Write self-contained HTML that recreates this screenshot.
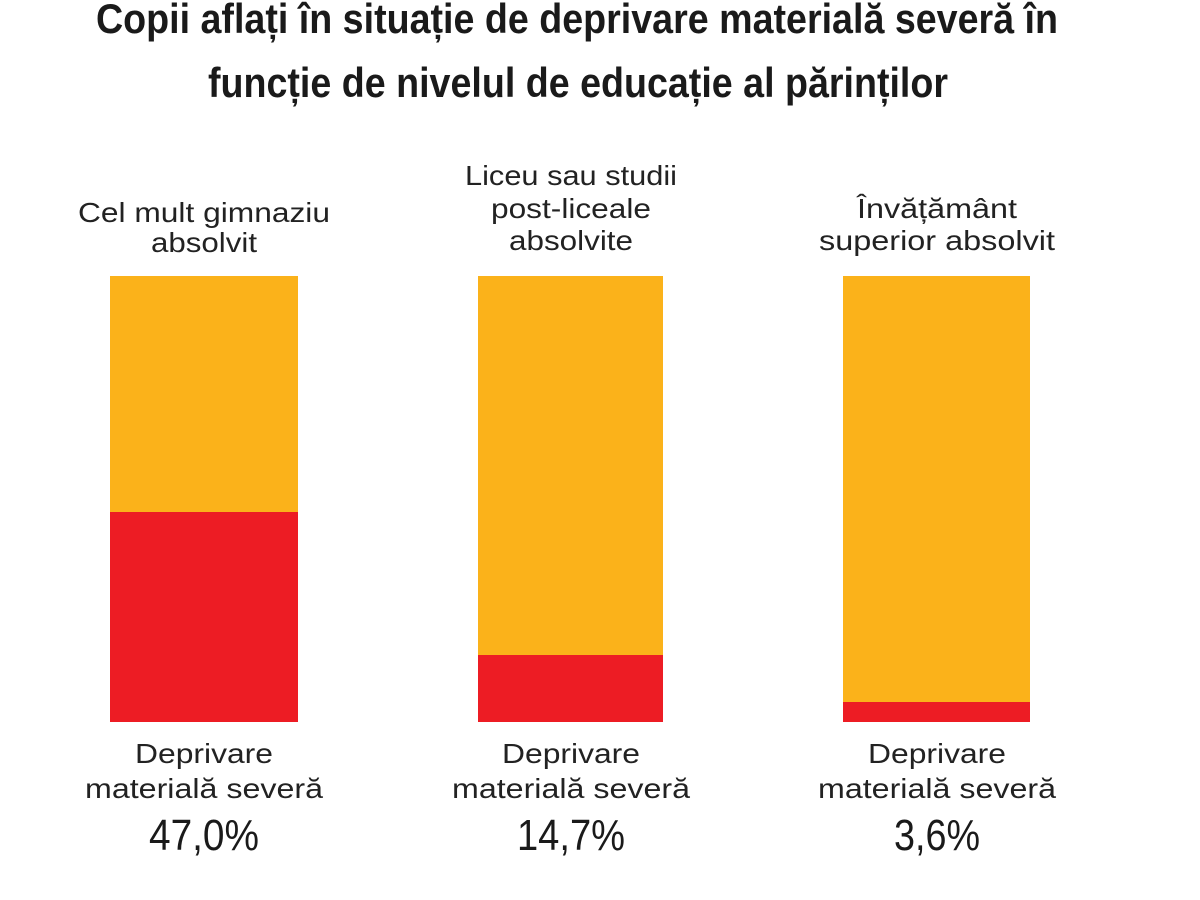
<!DOCTYPE html>
<html><head><meta charset="utf-8"><style>
html,body{margin:0;padding:0;background:#fff;}
svg{display:block}
.t{font-family:"Liberation Sans Narrow","Liberation Sans",sans-serif;font-weight:bold;font-size:42px;fill:#1a1a1a}
.l{font-family:"Liberation Sans",sans-serif;font-size:28px;fill:#222;text-anchor:middle}
.p{font-family:"Liberation Sans Narrow","Liberation Sans",sans-serif;font-size:44px;fill:#1a1a1a;text-anchor:middle}
</style></head><body>
<svg width="1200" height="900" viewBox="0 0 1200 900">
<text class="t" x="96" y="33" textLength="962" lengthAdjust="spacingAndGlyphs">Copii aflați în situație de deprivare materială severă în</text>
<text class="t" x="208" y="97" textLength="740" lengthAdjust="spacingAndGlyphs">funcție de nivelul de educație al părinților</text>

<text class="l" x="204" y="222" textLength="252" lengthAdjust="spacingAndGlyphs">Cel mult gimnaziu</text>
<text class="l" x="204" y="252" textLength="106" lengthAdjust="spacingAndGlyphs">absolvit</text>
<text class="l" x="571" y="185" textLength="212" lengthAdjust="spacingAndGlyphs">Liceu sau studii</text>
<text class="l" x="571" y="218" textLength="160" lengthAdjust="spacingAndGlyphs">post-liceale</text>
<text class="l" x="571" y="250" textLength="124" lengthAdjust="spacingAndGlyphs">absolvite</text>
<text class="l" x="937" y="218" textLength="160" lengthAdjust="spacingAndGlyphs">Învățământ</text>
<text class="l" x="937" y="250" textLength="236" lengthAdjust="spacingAndGlyphs">superior absolvit</text>

<rect x="110" y="276" width="188" height="446" fill="#FBB21A"/>
<rect x="110" y="512" width="188" height="210" fill="#ED1C24"/>
<rect x="478" y="276" width="185" height="446" fill="#FBB21A"/>
<rect x="478" y="655" width="185" height="67" fill="#ED1C24"/>
<rect x="843" y="276" width="187" height="446" fill="#FBB21A"/>
<rect x="843" y="702" width="187" height="20" fill="#ED1C24"/>

<g>
<text class="l" x="204" y="763" textLength="138" lengthAdjust="spacingAndGlyphs">Deprivare</text>
<text class="l" x="204" y="798" textLength="238" lengthAdjust="spacingAndGlyphs">materială severă</text>
<text class="p" x="204" y="850" textLength="110" lengthAdjust="spacingAndGlyphs">47,0%</text>
<text class="l" x="571" y="763" textLength="138" lengthAdjust="spacingAndGlyphs">Deprivare</text>
<text class="l" x="571" y="798" textLength="238" lengthAdjust="spacingAndGlyphs">materială severă</text>
<text class="p" x="571" y="850" textLength="108" lengthAdjust="spacingAndGlyphs">14,7%</text>
<text class="l" x="937" y="763" textLength="138" lengthAdjust="spacingAndGlyphs">Deprivare</text>
<text class="l" x="937" y="798" textLength="238" lengthAdjust="spacingAndGlyphs">materială severă</text>
<text class="p" x="937" y="850" textLength="86" lengthAdjust="spacingAndGlyphs">3,6%</text>
</g>
</svg>
</body></html>
